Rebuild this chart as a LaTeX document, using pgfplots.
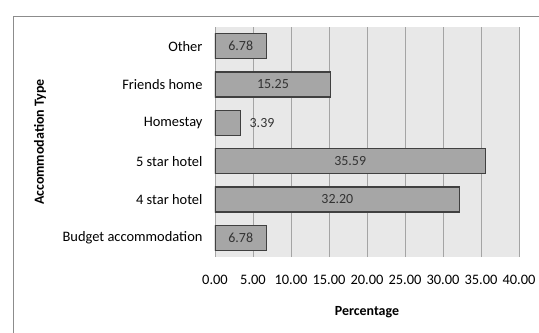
\documentclass[border=0pt]{standalone}
\usepackage{fontspec}
\setmainfont{Carlito}
\usepackage{pgfplots}
\usepackage{pgfplotstable}
\pgfplotsset{compat=1.18}

\definecolor{plotbg}{HTML}{E8E8E8}
\definecolor{gridc}{HTML}{A4A4A4}
\definecolor{barfill}{HTML}{A6A6A6}
\definecolor{barline}{HTML}{404040}
\definecolor{framec}{HTML}{8C8C8C}

% accommodation type (index) and share in percent
\pgfplotstableread{
idx value
0 6.78
1 32.20
2 35.59
3 3.39
4 15.25
5 6.78
}\accdata

\begin{document}
\begin{tikzpicture}
\useasboundingbox (-215bp,-76bp) rectangle (324bp,257bp);
\draw[framec, line width=1bp] (-201bp,-76bp) -- (-201bp,240bp) -- (324bp,240bp);
\begin{axis}[
  at={(0,0)}, anchor=south west,
  scale only axis, width=304bp, height=230bp,
  xmin=0, xmax=40, ymin=-0.5, ymax=5.5,
  xtick={0,5,...,40},
  ytick={0,...,5},
  yticklabels={Budget accommodation,4 star hotel,5 star hotel,Homestay,Friends home,Other},
  axis background/.style={fill=plotbg},
  axis line style={draw=none},
  major tick length=0pt,
  xmajorgrids, grid style={gridc, line width=0.8bp},
  tick label style={font=\fontsize{14.5}{16}\selectfont, text=black},
  /pgf/number format/assume math mode=true,
  xticklabel style={yshift=-15bp, /pgf/number format/fixed, /pgf/number format/fixed zerofill, /pgf/number format/precision=2},
  yticklabel style={xshift=-9bp},
  xlabel={\textbf{Percentage}},
  ylabel={\textbf{Accommodation Type}},
  label style={font=\fontsize{14}{16}\selectfont},
  xlabel style={at={(axis description cs:0.5,-0.239)}, anchor=center},
  ylabel style={at={(axis description cs:-0.5757,0.5)}, anchor=center},
]
\addplot[xbar, bar width=25bp, fill=barfill, draw=barline, line width=1.2bp] table[x=value, y=idx] {\accdata};
% value labels: centred in the bar, beside it when the bar is short
\addplot[draw=none, mark=none, forget plot,
  point meta={\thisrow{value}},
  nodes near coords,
  nodes near coords style={anchor=center, font=\fontsize{14}{16}\selectfont, text=black!80,
    /pgf/number format/fixed, /pgf/number format/fixed zerofill, /pgf/number format/precision=2},
] table[x expr={\thisrow{value}<5 ? \thisrow{value}+2.8 : \thisrow{value}/2}, y=idx] {\accdata};
\end{axis}
\end{tikzpicture}
\end{document}
